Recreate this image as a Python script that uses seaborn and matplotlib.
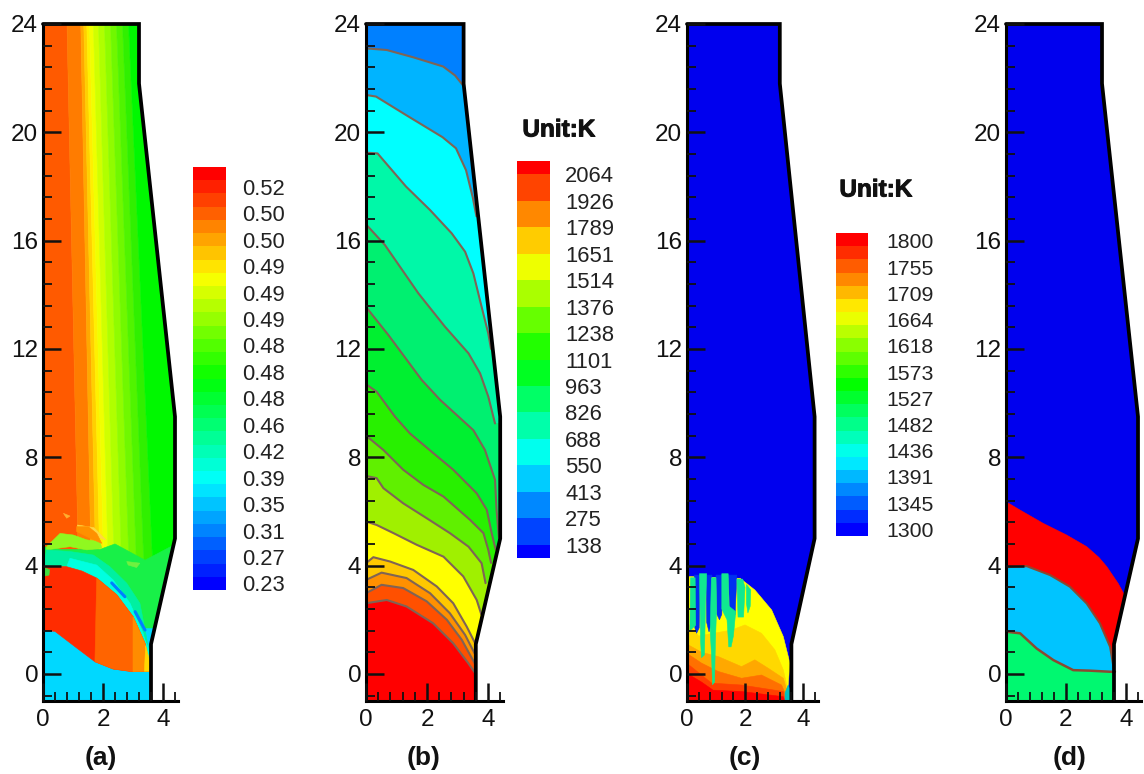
import numpy as np
import matplotlib
matplotlib.use("Agg")
import matplotlib.pyplot as plt
import matplotlib.patheffects as pe
from matplotlib.colors import LinearSegmentedColormap
from matplotlib.patches import Polygon
from matplotlib.ticker import MultipleLocator
import seaborn as sns

# Reactor wall, shared by all four panels
WALL_X = [0, 3.2, 3.2, 4.4, 4.4, 3.6, 3.6]
WALL_Y = [24, 24, 21.8, 9.5, 5.0, 1.1, -1]

# Colour bar labels
A_BAR_LABELS = ["0.52", "0.50", "0.50", "0.49", "0.49", "0.49", "0.48", "0.48",
                "0.48", "0.46", "0.42", "0.39", "0.35", "0.31", "0.27", "0.23"]
B_BAR_LABELS = ["2064", "1926", "1789", "1651", "1514", "1376", "1238", "1101",
                "963", "826", "688", "550", "413", "275", "138"]
C_BAR_LABELS = ["1800", "1755", "1709", "1664", "1618", "1573", "1527", "1482",
                "1436", "1391", "1345", "1300"]

# Panel (a): slanted stripes, edges read at y=24 and y=3
A_STRIPE_TOP = [0, 0.8, 1.26, 1.36, 1.46, 1.55, 1.68, 1.85, 2.05, 2.25, 2.45, 2.65, 2.85, 3.6]
A_STRIPE_LOW = [0, 1.2, 1.62, 1.78, 1.92, 2.05, 2.2, 2.4, 2.65, 2.9, 3.15, 3.4, 3.7, 5.0]
A_STRIPE_COLORS = ["#ff5a00", "#ff7c00", "#ffa800", "#ffd000", "#fff000", "#f0ff00", "#d0ff00",
                   "#b0ff00", "#90fc00", "#70f800", "#50f400", "#30f000", "#00f800"]

A_GREEN_X = [0, 0.6, 1.9, 2.4, 2.9, 3.4, 4.6, 4.6, 0]
A_GREEN_Y = [4.7, 4.6, 4.6, 4.8, 4.5, 4.2, 4.9, 0.5, 0.5]
A_TEAL_X = [0.12, 0.9, 1.68, 2.23, 2.79, 3.23, 3.6, 3.5, 3.0, 2.46, 1.79, 0.79, 0]
A_TEAL_Y = [4.58, 4.52, 4.39, 3.96, 3.35, 2.61, 0.5, 1.0, 2.1, 2.92, 3.54, 3.96, 3.9]
A_CYAN_X = [0.9, 1.79, 2.34, 2.9, 3.34, 3.6, 3.5, 3.0, 2.46, 1.79, 0.79]
A_CYAN_Y = [4.27, 4.02, 3.47, 2.61, 1.5, 0.4, 1.0, 2.1, 2.92, 3.54, 3.96]
A_LIME_X = [0.12, 0.57, 1.01, 1.46, 1.9, 1.96, 1.46, 0.9, 0.12]
A_LIME_Y = [4.7, 5.19, 5.13, 4.95, 4.89, 4.64, 4.58, 4.7, 4.58]
A_PALE_X = [1.15, 1.7, 2.1, 1.95, 1.5, 1.15]
A_PALE_Y = [5.5, 5.4, 4.95, 5.0, 5.25, 5.35]
A_PATCH_X = [1.12, 1.51, 1.79, 1.96, 1.57, 1.12]
A_PATCH_Y = [5.44, 5.44, 5.19, 4.82, 5.01, 5.26]
A_FLECK_X = [0.68, 0.9, 0.79]
A_FLECK_Y = [5.93, 5.83, 5.75]
A_SPOT_X = [2.79, 3.23, 3.12, 2.84]
A_SPOT_Y = [4.15, 4.09, 3.93, 4.02]
A_WEDGE_X = [0, 0.22, 0.2, 0]
A_WEDGE_Y = [3.95, 3.85, 3.65, 3.6]
A_STREAK1_X = [2.29, 2.73]
A_STREAK1_Y = [3.36, 2.85]
A_STREAK2_X = [3.07, 3.4]
A_STREAK2_Y = [2.3, 1.62]
A_POOL_X = [0, 3.65, 3.65, 0]
A_POOL_Y = [1.7, 1.7, -1, -1]

A_DOME_X = [0, 0.79, 1.3, 1.79, 2.46, 3.0, 3.4, 3.57, 3.57, 3.0, 2.34, 1.73, 1.12, 0.4, 0]
A_DOME_Y = [3.99, 3.96, 3.8, 3.54, 2.92, 2.12, 1.13, 0.15, 0.1, 0.08, 0.18, 0.45, 0.96, 1.57, 1.62]
A_DOME2_X = [1.79, 2.46, 3.0, 3.4, 3.57, 3.57, 3.0, 2.34, 1.73]
A_DOME2_Y = [3.54, 2.92, 2.12, 1.13, 0.15, 0.1, 0.08, 0.18, 0.45]
A_DOME3_X = [3.0, 3.4, 3.57, 3.57, 3.0]
A_DOME3_Y = [2.12, 1.13, 0.15, 0.1, 0.08]
A_TIP_X = [3.42, 3.58, 3.58, 3.38]
A_TIP_Y = [1.05, 0.4, 0.1, 0.1]

# Panel (b): isotherms from the top of the reactor downwards
B_TOP_COLOR = "#0080ff"
B_LINE1_X = [0, 0.68, 1.55, 2.53, 2.92, 3.17]
B_LINE1_Y = [23.1, 23.04, 22.77, 22.43, 22.1, 21.75]
B_LINE2_X = [0, 0.33, 1.31, 2.51, 2.95, 3.28, 3.5, 3.62]
B_LINE2_Y = [21.38, 21.32, 20.64, 19.82, 19.41, 18.6, 17.6, 16.9]
B_LINE3_X = [0, 0.38, 1.31, 2.1, 2.81, 3.25, 3.52, 3.79, 4.01, 4.1]
B_LINE3_Y = [19.25, 19.22, 18.0, 17.13, 16.27, 15.59, 14.79, 13.56, 12.57, 12.0]
B_LINE4_X = [0, 0.62, 1.72, 2.59, 3.36, 3.74, 4.01, 4.23]
B_LINE4_Y = [16.6, 15.84, 14.05, 12.82, 11.84, 11.1, 10.24, 9.25]
B_LINE5_X = [0, 0.73, 1.83, 2.43, 3.52, 3.9, 4.23, 4.28, 4.36]
B_LINE5_Y = [13.55, 12.52, 10.85, 10.12, 9.0, 8.27, 7.17, 6.06, 5.0]
B_LINE6_X = [0, 0.35, 0.95, 1.44, 2.21, 2.86, 3.63, 3.96, 4.12, 4.25]
B_LINE6_Y = [10.7, 10.42, 9.5, 8.88, 8.15, 7.54, 6.67, 6.06, 5.2, 4.6]
B_LINE7_X = [0, 0.57, 1.22, 1.88, 2.54, 3.41, 3.85, 4.01, 4.1]
B_LINE7_Y = [8.8, 8.27, 7.54, 6.98, 6.55, 5.69, 5.2, 4.58, 4.1]
B_LINE8_X = [0, 0.35, 0.57, 1.22, 1.99, 2.75, 3.36, 3.79, 3.92]
B_LINE8_Y = [7.31, 7.23, 6.86, 6.3, 5.75, 5.2, 4.7, 4.09, 3.35]
B_LINE9_X = [0, 0.35, 0.9, 1.66, 2.54, 3.19, 3.63, 3.78]
B_LINE9_Y = [5.63, 5.5, 5.2, 4.77, 4.33, 3.6, 2.73, 2.2]
B_LINE10_X = [0, 0.24, 0.79, 1.55, 2.32, 2.86, 3.3, 3.58]
B_LINE10_Y = [4.09, 4.31, 4.15, 3.84, 3.23, 2.61, 1.75, 1.13]
B_LINE11_X = [0, 0.51, 1.33, 2.1, 2.75, 3.25, 3.56]
B_LINE11_Y = [3.47, 3.74, 3.54, 2.98, 2.24, 1.44, 0.76]
B_LINE12_X = [0, 0.51, 1.22, 1.99, 2.65, 3.14, 3.56]
B_LINE12_Y = [2.98, 3.29, 3.17, 2.68, 2.0, 1.26, 0.4]
B_LINE13_X = [0, 0.68, 1.33, 2.2, 2.86, 3.35, 3.58]
B_LINE13_Y = [2.61, 2.73, 2.49, 1.87, 1.13, 0.4, 0.03]
B_LINES_X = [B_LINE1_X, B_LINE2_X, B_LINE3_X, B_LINE4_X, B_LINE5_X, B_LINE6_X, B_LINE7_X,
             B_LINE8_X, B_LINE9_X, B_LINE10_X, B_LINE11_X, B_LINE12_X, B_LINE13_X]
B_LINES_Y = [B_LINE1_Y, B_LINE2_Y, B_LINE3_Y, B_LINE4_Y, B_LINE5_Y, B_LINE6_Y, B_LINE7_Y,
             B_LINE8_Y, B_LINE9_Y, B_LINE10_Y, B_LINE11_Y, B_LINE12_Y, B_LINE13_Y]
B_ZONE_COLORS = ["#00b4ff", "#00ffff", "#00f8a8", "#00f070", "#00f030", "#28f000", "#60f000",
                 "#a0f000", "#ffff00", "#ffc800", "#ff9000", "#ff5000", "#ff0000"]

# Panel (c): solid region and fingers
BLUE = "#0000ee"
C_YELLOW_X = [0, 1.83, 2.34, 2.92, 3.32, 3.55, 3.49, 3.38, 3.38, 0]
C_YELLOW_Y = [3.6, 3.53, 3.1, 2.36, 1.38, 0.39, -0.41, -0.71, -1, -1]
C_GOLD_X = [0, 0.4, 1.54, 2.0, 2.57, 3.03, 3.32, 3.44, 3.38, 0]
C_GOLD_Y = [1.9, 1.4, 1.62, 1.81, 1.5, 0.89, 0.15, -0.41, -1, -1]
C_AMBER_X = [0, 0.5, 1.08, 1.88, 2.34, 2.8, 3.32, 3.44, 3.38, 0]
C_AMBER_Y = [1.1, 0.8, 0.64, 0.27, 0.52, 0.21, -0.16, -0.59, -1, -1]
C_ORANGE_X = [0, 0.5, 1.08, 1.88, 2.57, 3.26, 3.4, 3.38, 0]
C_ORANGE_Y = [0.76, 0.4, 0.09, -0.16, -0.04, -0.41, -0.75, -1, -1]
C_DEEP_X = [0, 0.85, 1.88, 3.32, 3.38, 0]
C_DEEP_Y = [0.39, -0.34, -0.41, -0.65, -1, -1]
C_RED_X = [0, 0.5, 0.9, 1.88, 3.32, 3.38, 0]
C_RED_Y = [0.02, -0.3, -0.6, -0.65, -0.84, -1, -1]
C_SLIVER_X = [3.38, 3.38, 3.49, 3.55, 3.55]
C_SLIVER_Y = [-1, -0.7, -0.41, -0.6, -1]
C_CHANNELS_X = [[0.25, 0.45, 0.42, 0.33, 0.27], [0.66, 0.86, 0.85, 0.76, 0.68],
                [1.0, 1.22, 1.2, 1.12, 1.03], [1.42, 1.72, 1.66, 1.58, 1.48]]
C_CHANNELS_Y = [[3.65, 3.65, 1.7, 1.5, 1.7], [3.65, 3.65, 1.9, 1.55, 1.9],
                [3.65, 3.65, 2.2, 2.0, 2.2], [3.65, 3.65, 2.2, 2.0, 2.2]]
C_FINGERS_X = [[0.12, 0.28, 0.3, 0.1],
               [0.43, 0.68, 0.64, 0.6, 0.5, 0.47],
               [0.84, 1.0, 1.02, 0.98, 0.95, 0.88, 0.85, 0.8],
               [1.2, 1.42, 1.45, 1.68, 1.6, 1.52, 1.44, 1.38, 1.2],
               [1.72, 1.92, 2.0, 1.95, 1.76],
               [2.05, 2.2, 2.18, 2.1, 2.05]]
C_FINGERS_Y = [[3.55, 3.55, 1.8, 1.6],
               [3.7, 3.7, 2.6, 0.7, 0.6, 1.2],
               [3.55, 3.55, 2.4, 1.2, -0.3, -0.4, 0.6, 1.6],
               [3.7, 3.7, 2.5, 2.3, 1.4, 1.0, 1.0, 2.0, 2.4],
               [3.5, 3.5, 3.2, 2.1, 2.1],
               [3.3, 3.1, 2.5, 2.25, 2.6]]

# Panel (d): three phase fronts
D_RED_X = [0, 0.47, 1.24, 2.02, 2.69, 3.1, 3.36, 3.74, 3.98]
D_RED_Y = [6.36, 6.05, 5.56, 5.13, 4.7, 4.3, 3.96, 3.34, 2.85]
D_CYAN_X = [0, 0.69, 1.47, 2.13, 2.69, 3.13, 3.47, 3.6]
D_CYAN_Y = [3.94, 3.98, 3.65, 3.22, 2.6, 1.87, 1.0, 0.14]
D_GREEN_X = [0, 0.47, 1.02, 1.58, 2.24, 2.8, 3.47, 3.63]
D_GREEN_Y = [1.56, 1.5, 0.94, 0.51, 0.14, 0.12, 0.08, 0.08]

RAINBOW = LinearSegmentedColormap.from_list(
    "rainbow5", ["#0000ff", "#00ffff", "#00ff00", "#ffff00", "#ff0000"])

FIG_W, FIG_H = 1144, 774
sns.set_theme(style="ticks")
plt.rcParams["font.family"] = ["Liberation Sans", "DejaVu Sans"]
fig = plt.figure(figsize=(FIG_W / 100, FIG_H / 100), dpi=100, facecolor="white")


def px_axes(left, top, right, bottom):
    return fig.add_axes([left / FIG_W, 1 - bottom / FIG_H,
                         (right - left) / FIG_W, (bottom - top) / FIG_H])


def px_text(x, y, s, **kw):
    return fig.text(x / FIG_W, 1 - y / FIG_H, s, ha="center", va="center", color="#111111", **kw)


def make_panel(x0, scale):
    ax = px_axes(x0, 24, x0 + 4.5 * scale, 701)
    ax.set_facecolor("white")
    ax.set_axisbelow(False)
    return ax


def fill(ax, x, y, color):
    patch = ax.fill(x, y, color=color, linewidth=0.4, zorder=1)[0]
    clip = Polygon(np.column_stack([WALL_X + [0], WALL_Y + [-1]]), transform=ax.transData)
    patch.set_clip_path(clip)
    return patch


def fill_below(ax, x, y, color):
    fill(ax, x + [4.7, 4.7, 0], y + [y[-1], -1, -1], color)


def curve(ax, x, y, color, lw=1.5):
    sns.lineplot(x=x, y=y, sort=False, estimator=None, color=color, linewidth=lw, ax=ax)
    ax.lines[-1].set_solid_joinstyle("round")


def finish_panel(ax):
    curve(ax, WALL_X, WALL_Y, "black", lw=2.7)
    ax.lines[-1].set_clip_on(False)
    ax.lines[-1].set_solid_joinstyle("miter")
    ax.set_xlim(0, 4.5)
    ax.set_ylim(-1, 24)
    ax.set_xticks([0, 2, 4])
    ax.set_yticks([0, 4, 8, 12, 16, 20, 24])
    ax.xaxis.set_minor_locator(MultipleLocator(0.4))
    ax.yaxis.set_minor_locator(MultipleLocator(0.8))
    ax.tick_params(which="major", direction="in", length=13, width=1.8,
                   labelsize=17.5, colors="#111111", pad=6)
    ax.tick_params(axis="y", which="major", pad=3.5)
    ax.tick_params(which="minor", direction="in", length=6.5, width=1.3, colors="#111111")
    ax.set_xlabel("")
    ax.set_ylabel("")
    sns.despine(ax=ax)
    for side in ["left", "bottom"]:
        ax.spines[side].set_linewidth(2.2)
        ax.spines[side].set_color("black")


def color_bar(box, cells, labels, ticks, pad, size):
    left, top, right, bottom = box
    ax = px_axes(left, top, right, bottom)
    data = np.asarray(cells, dtype=float).reshape(-1, 1)
    sns.heatmap(data, cmap=RAINBOW, vmin=0, vmax=data.max(), cbar=False, ax=ax,
                xticklabels=False, yticklabels=False)
    ax.set_yticks(ticks)
    ax.set_yticklabels(labels, rotation=0)
    ax.yaxis.tick_right()
    ax.tick_params(axis="y", length=0, pad=pad, labelsize=size, labelcolor="#222222")


# (a)
ax_a = make_panel(43, 30)
for i, col in enumerate(A_STRIPE_COLORS):
    fill(ax_a, [A_STRIPE_TOP[i], A_STRIPE_TOP[i + 1], A_STRIPE_LOW[i + 1], A_STRIPE_LOW[i]],
         [24, 24, 3, 3], col)
fill(ax_a, A_GREEN_X, A_GREEN_Y, "#18f048")
fill(ax_a, A_PALE_X, A_PALE_Y, "#ffd840")
fill(ax_a, A_LIME_X, A_LIME_Y, "#90f820")
fill(ax_a, A_PATCH_X, A_PATCH_Y, "#ff9000")
fill(ax_a, A_FLECK_X, A_FLECK_Y, "#ffb030")
fill(ax_a, A_SPOT_X, A_SPOT_Y, "#70f040")
fill(ax_a, A_POOL_X, A_POOL_Y, "#00d8ff")
fill(ax_a, A_TEAL_X, A_TEAL_Y, "#00f0a0")
fill(ax_a, A_CYAN_X, A_CYAN_Y, "#00ffe0")
fill(ax_a, A_DOME_X, A_DOME_Y, "#ff2c00")
fill(ax_a, A_DOME2_X, A_DOME2_Y, "#ff6400")
fill(ax_a, A_DOME3_X, A_DOME3_Y, "#ff8c00")
fill(ax_a, A_TIP_X, A_TIP_Y, "#ffd800")
fill(ax_a, A_WEDGE_X, A_WEDGE_Y, "#40e040")
curve(ax_a, A_STREAK1_X, A_STREAK1_Y, "#0080ff", lw=2.2)
curve(ax_a, A_STREAK2_X, A_STREAK2_Y, "#0080ff", lw=2.2)
finish_panel(ax_a)

# (b)
ax_b = make_panel(366, 30.5)
fill(ax_b, WALL_X + [0], WALL_Y + [-1], B_TOP_COLOR)
for lx, ly, col in zip(B_LINES_X, B_LINES_Y, B_ZONE_COLORS):
    fill_below(ax_b, lx, ly, col)
for lx, ly in zip(B_LINES_X, B_LINES_Y):
    curve(ax_b, lx, ly, "#7f6455", lw=1.5)
finish_panel(ax_b)

# (c)
ax_c = make_panel(687, 29)
fill(ax_c, WALL_X + [0], WALL_Y + [-1], BLUE)
fill(ax_c, C_YELLOW_X, C_YELLOW_Y, "#ffff00")
fill(ax_c, C_GOLD_X, C_GOLD_Y, "#ffd800")
fill(ax_c, C_AMBER_X, C_AMBER_Y, "#ffa800")
fill(ax_c, C_ORANGE_X, C_ORANGE_Y, "#ff7000")
fill(ax_c, C_DEEP_X, C_DEEP_Y, "#ff4000")
fill(ax_c, C_RED_X, C_RED_Y, "#ff0000")
fill(ax_c, C_SLIVER_X, C_SLIVER_Y, "#00c0c0")
for fx, fy in zip(C_CHANNELS_X, C_CHANNELS_Y):
    fill(ax_c, fx, fy, "#0030f0")
for fx, fy in zip(C_FINGERS_X, C_FINGERS_Y):
    fill(ax_c, fx, fy, "#10e890")
finish_panel(ax_c)

# (d)
ax_d = make_panel(1006, 30)
fill(ax_d, WALL_X + [0], WALL_Y + [-1], BLUE)
fill_below(ax_d, D_RED_X, D_RED_Y, "#ff0000")
fill_below(ax_d, D_CYAN_X, D_CYAN_Y, "#00c4ff")
fill_below(ax_d, D_GREEN_X, D_GREEN_Y, "#00f870")
curve(ax_d, D_CYAN_X, D_CYAN_Y, "#8a4a30", lw=1.5)
curve(ax_d, D_GREEN_X, D_GREEN_Y, "#8a4a30", lw=1.8)
finish_panel(ax_d)

# colour bars
color_bar((193, 167, 226, 590), np.arange(31, -1, -1), A_BAR_LABELS,
          np.arange(1.5, 32, 2), 11.5, 15.8)
color_bar((517, 161, 550, 558), np.repeat(np.arange(15, -1, -1), [1] + [2] * 14 + [1]),
          B_BAR_LABELS, np.arange(1, 30, 2), 11, 15.8)
color_bar((836, 233, 868, 536), np.arange(22, -1, -1), C_BAR_LABELS,
          np.linspace(0.6, 22.5, 12), 13, 15.3)

for ux, uy in [(559, 130), (876, 190)]:
    t = px_text(ux, uy, "Unit:K", fontsize=17.5, fontweight="bold")
    t.set_path_effects([pe.withStroke(linewidth=0.7, foreground="#111111")])

for cx, lab in zip([101, 424, 745, 1070], ["(a)", "(b)", "(c)", "(d)"]):
    px_text(cx, 758, lab, fontsize=19, fontweight="bold")

plt.savefig("out.png", dpi=100, facecolor="white")
